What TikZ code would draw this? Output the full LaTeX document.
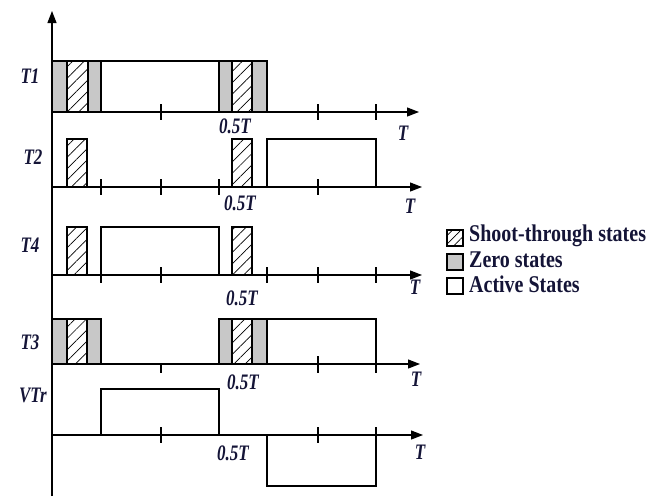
\documentclass[tikz,border=0pt]{standalone}
\usepackage{fontspec}
\usepackage{graphicx}
\setmainfont{Liberation Serif}
\usetikzlibrary{patterns.meta,arrows.meta}
\definecolor{ink}{RGB}{20,20,55}
\definecolor{zerogray}{RGB}{200,200,200}
\newcommand\tallt[1]{\scalebox{1}[1.3]{#1}}
\newcommand\tallg[1]{\scalebox{1}[1.2]{#1}}
\begin{document}
\begin{tikzpicture}[x=1pt,y=-1pt,
  wave/.style={line width=1.2pt,line join=miter},
  axisline/.style={line width=1.2pt,-{Triangle[length=12pt,width=9pt]}},
  tickmark/.style={line width=1.1pt},
  zerobox/.style={fill=zerogray,draw,line width=1.2pt},
  stbox/.style={pattern={Lines[angle=45,distance=8pt,line width=0.7pt]},draw,line width=1.2pt},
  lbl/.style={font=\fontsize{17}{17}\selectfont\bfseries\itshape,text=ink,inner sep=0pt},
  leg/.style={font=\fontsize{20}{20}\selectfont\bfseries,text=ink,inner sep=0pt,anchor=west},
  legbox/.style={draw,line width=1.3pt,minimum size=16pt,inner sep=0pt}
]
\useasboundingbox (0,0) rectangle (663,496);
% vertical axis
\coordinate (vbot) at (52,496);
\coordinate (vtop) at (52,11);
\draw[axisline] (vbot) -- (vtop);

% ---------- T1 ----------
\coordinate (a1s) at (52,112); \coordinate (a1e) at (419,112);
\draw[zerobox] (52,61) rectangle (67,112);
\draw[stbox] (67,61) rectangle (88,112);
\draw[zerobox] (88,61) rectangle (101,112);
\draw[wave] (101,61) rectangle (219,112);
\draw[zerobox] (219,61) rectangle (232,112);
\draw[stbox] (232,61) rectangle (252,112);
\draw[zerobox] (252,61) rectangle (267,112);
\draw[axisline] (a1s) -- (a1e);
\foreach \x in {161,318,376} \draw[tickmark] (\x,104) -- (\x,120);
\node[lbl] (lt1) at (30,76) {\tallt{T1}};
\node[lbl] (h1) at (235,126) {\tallt{0.5T}};
\node[lbl] (e1) at (403,133) {\tallt{T}};

% ---------- T2 ----------
\coordinate (a2s) at (52,187); \coordinate (a2e) at (422,187);
\draw[stbox] (67,139) rectangle (87,187);
\draw[stbox] (232,139) rectangle (252,187);
\draw[wave] (267,187) -- (267,139) -- (376,139) -- (376,187);
\draw[axisline] (a2s) -- (a2e);
\foreach \x in {101,161,219,318} \draw[tickmark] (\x,179) -- (\x,195);
\node[lbl] (lt2) at (33,157) {\tallt{T2}};
\node[lbl] (h2) at (240,203) {\tallt{0.5T}};
\node[lbl] (e2) at (410,206) {\tallt{T}};

% ---------- T4 ----------
\coordinate (a4s) at (52,275); \coordinate (a4e) at (422,275);
\draw[stbox] (67,227) rectangle (87,275);
\draw[wave] (101,275) -- (101,227) -- (219,227) -- (219,275);
\draw[stbox] (232,227) rectangle (252,275);
\draw[axisline] (a4s) -- (a4e);
\foreach \x in {101,161,267,318,376} \draw[tickmark] (\x,267) -- (\x,283);
\node[lbl] (lt4) at (30,245) {\tallt{T4}};
\node[lbl] (h4) at (242,298) {\tallt{0.5T}};
\node[lbl] (e4) at (415,287) {\tallt{T}};

% ---------- T3 ----------
\coordinate (a3s) at (52,364); \coordinate (a3e) at (420,364);
\draw[zerobox] (52,319) rectangle (67,364);
\draw[stbox] (67,319) rectangle (87,364);
\draw[zerobox] (87,319) rectangle (101,364);
\draw[zerobox] (219,319) rectangle (232,364);
\draw[stbox] (232,319) rectangle (252,364);
\draw[zerobox] (252,319) rectangle (267,364);
\draw[wave] (267,319) -- (376,319) -- (376,364);
\draw[axisline] (a3s) -- (a3e);
\draw[tickmark] (161,364) -- (161,373);
\foreach \x in {318,376} \draw[tickmark] (\x,356) -- (\x,373);
\node[lbl] (lt3) at (30,342) {\tallt{T3}};
\node[lbl] (h3) at (243,382) {\tallt{0.5T}};
\node[lbl] (e3) at (416,379) {\tallt{T}};

% ---------- VTr ----------
\coordinate (a5s) at (52,435); \coordinate (a5e) at (423,435);
\draw[wave] (101,435) -- (101,389) -- (219,389) -- (219,435);
\draw[wave] (267,435) -- (267,486) -- (376,486) -- (376,435);
\draw[axisline] (a5s) -- (a5e);
\foreach \x in {161,318} \draw[tickmark] (\x,427) -- (\x,443);
\draw[tickmark] (376,427) -- (376,435);
\node[lbl] (lt5) at (33,395) {\tallt{VTr}};
\node[lbl] (h5) at (233,453) {\tallt{0.5T}};
\node[lbl] (e5) at (420,452) {\tallt{T}};

% ---------- legend ----------
\node[legbox,pattern={Lines[angle=45,distance=6pt,line width=0.7pt]}] (k1) at (455,238) {};
\node[legbox,fill=zerogray] (k2) at (455,262) {};
\node[legbox] (k3) at (455,286) {};
\node[leg] (k1t) at (469,236) {\tallg{Shoot-through states}};
\node[leg] (k2t) at (469,260) {\tallg{Zero states}};
\node[leg] (k3t) at (469,284) {\tallg{Active States}};
\end{tikzpicture}
\end{document}
